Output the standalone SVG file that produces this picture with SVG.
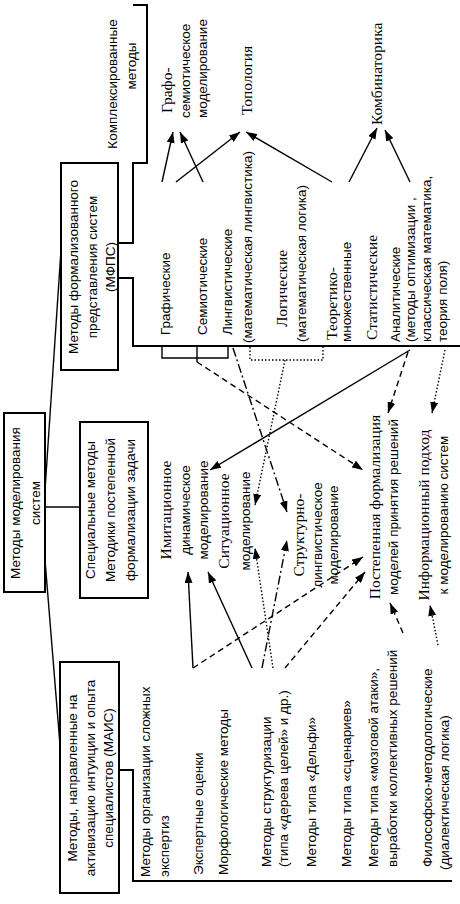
<svg xmlns="http://www.w3.org/2000/svg" width="460" height="904" viewBox="0 0 460 904">
<defs>
<style>
.box{fill:#fff;stroke:#000;stroke-width:2}
.ln{stroke:#000;stroke-width:1.4;fill:none}
.sep{stroke:#000;stroke-width:2;fill:none}
.dash{stroke-dasharray:6 4}
.dd{stroke-dasharray:9 3 2 3}
.dot{stroke-dasharray:1.5 2}
.s{font-family:"Liberation Sans",Arial,sans-serif;font-size:13.5px;fill:#000}
.r{font-family:"Liberation Serif","Times New Roman",serif;font-size:15.5px;fill:#000}
.m{text-anchor:middle}
</style>
<marker id="ah" viewBox="0 0 11 8" refX="11" refY="4" markerWidth="11" markerHeight="8" markerUnits="userSpaceOnUse" orient="auto"><path d="M0,0 L11,4 L0,8 z" fill="#000"/></marker>
</defs>
<rect width="460" height="904" fill="#fff"/>
<g transform="translate(0,904) rotate(-90)">
<g id="connectors">
<line class="ln" x1="397" y1="45" x2="397" y2="80"/>
<line class="ln" x1="414" y1="45" x2="654" y2="61"/>
<line class="ln" x1="344" y1="45" x2="159" y2="60"/>
<polyline class="sep" points="661,118 661,133 741,133 741,147 899,147 899,133"/>
<polyline class="sep" points="626,118 626,133 558,133 558,452"/>
<path class="sep" d="M558,176V709M558,213V709M558,257V709M558,309V709M558,358V709M558,385V709M558,452V709"/>
<polyline class="sep" points="134,119 134,133 23,133 23,452"/>
<path class="sep" d="M23,176V256M23,208V256M23,237V256M23,293V256M23,328V256M23,363V256M23,408V256M23,452V256"/>
<polyline class="ln" points="558,162 546,162 546,228 558,228"/>
<line class="ln" x1="558" y1="197" x2="542" y2="197"/>
<polyline class="ln dot" points="557,250 544,250 544,323 557,323"/>
<line class="ln" x1="722" y1="162" x2="772" y2="173" marker-end="url(#ah)"/>
<line class="ln" x1="722" y1="203" x2="772" y2="180" marker-end="url(#ah)"/>
<line class="ln" x1="722" y1="176" x2="772" y2="240" marker-end="url(#ah)"/>
<line class="ln" x1="722" y1="332" x2="772" y2="246" marker-end="url(#ah)"/>
<line class="ln" x1="722" y1="349" x2="776" y2="377" marker-end="url(#ah)"/>
<line class="ln" x1="722" y1="410" x2="774" y2="385" marker-end="url(#ah)"/>
<line class="ln dash" x1="542" y1="197" x2="434" y2="363" marker-end="url(#ah)"/>
<line class="ln dd" x1="556" y1="233" x2="392" y2="287" marker-end="url(#ah)"/>
<line class="ln dot" x1="544" y1="285" x2="399" y2="255" marker-end="url(#ah)"/>
<line class="ln" x1="554" y1="410" x2="434" y2="210" marker-end="url(#ah)"/>
<line class="ln dash" x1="552" y1="408" x2="491" y2="388" marker-end="url(#ah)"/>
<line class="ln dot" x1="554" y1="445" x2="491" y2="432" marker-end="url(#ah)"/>
<line class="ln" x1="236" y1="193" x2="332" y2="188" marker-end="url(#ah)"/>
<line class="ln dash" x1="236" y1="193" x2="347" y2="363" marker-end="url(#ah)"/>
<line class="ln" x1="236" y1="252" x2="332" y2="208" marker-end="url(#ah)"/>
<line class="ln dd" x1="236" y1="262" x2="364" y2="287" marker-end="url(#ah)"/>
<line class="ln dot" x1="236" y1="273" x2="356" y2="255" marker-end="url(#ah)"/>
<line class="ln dash" x1="236" y1="285" x2="332" y2="365" marker-end="url(#ah)"/>
<line class="ln dash" x1="271" y1="403" x2="301" y2="390" marker-end="url(#ah)"/>
<line class="ln dot" x1="259" y1="438" x2="299" y2="430" marker-end="url(#ah)"/>
</g>
<g id="n-root"><rect class="box" x="312" y="4" width="179" height="41"/>
<text class="s m" x="401" y="20">Методы моделирования</text><text class="s m" x="401" y="40">систем</text></g>
<g id="n-special"><rect class="box" x="306" y="80" width="176" height="68"/>
<text class="s m" x="394" y="95">Специальные методы</text><text class="s m" x="394" y="115">Методики постепенной</text><text class="s m" x="394" y="135">формализации задачи</text></g>
<g id="n-mfps"><rect class="box" x="534" y="61" width="207" height="57"/>
<text class="s m" x="637" y="78">Методы формализованного</text><text class="s m" x="637" y="97">представления систем</text><text class="s m" x="637" y="115">(МФПС)</text></g>
<g id="n-mais"><rect class="box" x="11" y="60" width="231" height="59"/>
<text class="s m" x="126" y="77">Методы, направленные на</text><text class="s m" x="126" y="95">активизацию интуиции и опыта</text><text class="s m" x="126" y="113">специалистов (МАИС)</text></g>
<g id="n-complex"><text class="s m" x="820" y="117">Комплексированные</text><text class="s m" x="838" y="136">методы</text></g>
<g id="n-graph"><text class="s" x="569" y="170">Графические</text></g>
<g id="n-semio"><text class="s" x="569" y="207">Семиотические</text></g>
<g id="n-ling"><text class="s" x="569" y="232">Лингвистические</text><text class="s" x="561" y="252">(математическая лингвистика)</text></g>
<g id="n-logic"><text class="r" x="577" y="287">Логические</text><text class="s" x="562" y="306">(математическая логика)</text></g>
<g id="n-set"><text class="r" x="564" y="337">Теоретико-</text><text class="s" x="562" y="351">множественные</text></g>
<g id="n-stat"><text class="r" x="564" y="377">Статистические</text></g>
<g id="n-anal"><text class="s" x="562" y="400">Аналитические</text><text class="s" x="562" y="415">(методы оптимизации ,</text><text class="s" x="562" y="431">классическая математика,</text><text class="s" x="562" y="447">теория поля)</text></g>
<g id="n-expert-org"><text class="s" x="27" y="150">Методы организации сложных</text><text class="s" x="27" y="169">экспертиз</text></g>
<g id="n-expert"><text class="s" x="29" y="203">Экспертные оценки</text></g>
<g id="n-morph"><text class="s" x="29" y="228">Морфологические методы</text></g>
<g id="n-struct"><text class="s" x="37" y="271">Методы структуризации</text><text class="s" x="37" y="288">(типа «дерева целей» и др.)</text></g>
<g id="n-delphi"><text class="s" x="37" y="316">Методы типа «Дельфи»</text></g>
<g id="n-scen"><text class="s" x="37" y="351">Методы типа «сценариев»</text></g>
<g id="n-brain"><text class="s" x="37" y="378">Методы типа «мозговой атаки»,</text><text class="s" x="37" y="397">выработки коллективных решений</text></g>
<g id="n-philo"><text class="s" x="37" y="432">Философско-методологические</text><text class="s" x="34" y="449">(диалектическая логика)</text></g>
<g id="n-imit"><text class="r m" x="394" y="171">Имитационное</text><text class="s m" x="394" y="190">динамическое</text><text class="s m" x="394" y="208">моделирование</text></g>
<g id="n-situ"><text class="r m" x="383" y="229">Ситуационное</text><text class="s m" x="383" y="250">моделирование</text></g>
<g id="n-structling"><text class="r m" x="369" y="304">Структурно-</text><text class="s m" x="369" y="322">лингвистическое</text><text class="s m" x="369" y="338">моделирование</text></g>
<g id="n-gradual"><text class="r m" x="397" y="380">Постепенная формализация</text><text class="s m" x="397" y="398">моделей принятия решений</text></g>
<g id="n-info"><text class="r m" x="389" y="429">Информационный подход</text><text class="s m" x="389" y="448">к моделированию систем</text></g>
<g id="n-grafosem"><text class="r" x="791" y="172">Графо-</text><text class="s" x="786" y="190">семиотическое</text><text class="s" x="786" y="207">моделирование</text></g>
<g id="n-topo"><text class="r" x="789" y="252">Топология</text></g>
<g id="n-comb"><text class="r" x="779" y="382">Комбинаторика</text></g>
</g>
</svg>
